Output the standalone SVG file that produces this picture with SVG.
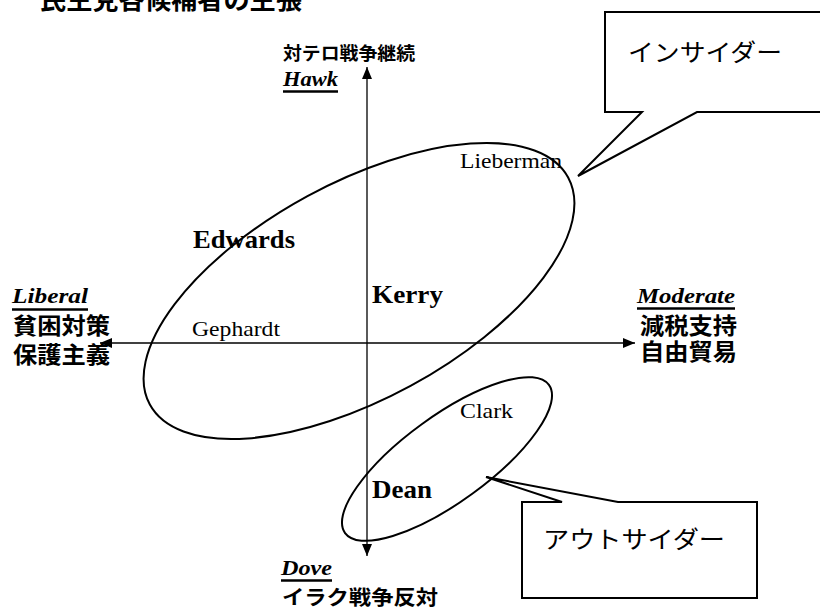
<svg xmlns="http://www.w3.org/2000/svg" width="820" height="610" viewBox="0 0 820 610">
<style>
.jp{font-family:"Noto Sans CJK JP","Noto Sans CJK SC",sans-serif;font-weight:bold;fill:#000}
.kana{font-family:"Noto Sans CJK JP","Noto Sans CJK SC",sans-serif;font-weight:normal;fill:#000}
.en{font-family:"Liberation Serif","Times New Roman",serif;fill:#000}
.it{font-family:"Liberation Serif","Times New Roman",serif;font-style:italic;font-weight:bold;fill:#000}
.b{font-weight:bold}
.ul{stroke:#000;stroke-width:2.5}
.ax{stroke:#000;stroke-width:1.3;fill:none}
.ell{stroke:#000;stroke-width:2;fill:none}
.call{stroke:#000;stroke-width:2;fill:#fff}
</style>
<defs>
<marker id="ah" viewBox="0 0 12 10" refX="12" refY="5" markerWidth="12" markerHeight="10" markerUnits="userSpaceOnUse" orient="auto">
<path d="M0,0 L12,5 L0,10 Z" fill="#000"/>
</marker>
</defs>
<rect width="820" height="610" fill="#fff"/>
<g id="title"><text class="jp" x="40" y="9" font-size="26" textLength="262" lengthAdjust="spacingAndGlyphs">民主党各候補者の主張</text></g>
<g id="connectors">
<line class="ax" x1="367" y1="300" x2="367" y2="67" marker-end="url(#ah)"/>
<line class="ax" x1="367" y1="300" x2="367" y2="556" marker-end="url(#ah)"/>
<line class="ax" x1="360" y1="343" x2="635" y2="343" marker-end="url(#ah)"/>
<line class="ax" x1="360" y1="343" x2="100" y2="343" marker-end="url(#ah)"/>
</g>
<g id="hawk">
<text class="jp" x="283" y="60" font-size="18" textLength="132" lengthAdjust="spacingAndGlyphs">対テロ戦争継続</text>
<text class="it" x="283" y="86" font-size="21" textLength="55" lengthAdjust="spacingAndGlyphs">Hawk</text>
<line class="ul" x1="283" y1="91.5" x2="338" y2="91.5"/>
</g>
<g id="liberal">
<text class="it" x="12" y="303" font-size="21" textLength="76" lengthAdjust="spacingAndGlyphs">Liberal</text>
<line class="ul" x1="12" y1="309.5" x2="88" y2="309.5"/>
<text class="jp" x="13" y="334" font-size="23" textLength="97" lengthAdjust="spacingAndGlyphs">貧困対策</text>
<text class="jp" x="13" y="363" font-size="23" textLength="97" lengthAdjust="spacingAndGlyphs">保護主義</text>
</g>
<g id="moderate">
<text class="it" x="637" y="303" font-size="21" textLength="98" lengthAdjust="spacingAndGlyphs">Moderate</text>
<line class="ul" x1="637" y1="308.5" x2="735" y2="308.5"/>
<text class="jp" x="640" y="334" font-size="23" textLength="97" lengthAdjust="spacingAndGlyphs">減税支持</text>
<text class="jp" x="640" y="360" font-size="23" textLength="97" lengthAdjust="spacingAndGlyphs">自由貿易</text>
</g>
<g id="dove">
<text class="it" x="281" y="575" font-size="21" textLength="51" lengthAdjust="spacingAndGlyphs">Dove</text>
<line class="ul" x1="281" y1="580.5" x2="332" y2="580.5"/>
<text class="jp" x="282" y="605" font-size="20" textLength="156" lengthAdjust="spacingAndGlyphs">イラク戦争反対</text>
</g>
<g id="insider-ellipse"><ellipse class="ell" cx="359" cy="291" rx="238" ry="108" transform="rotate(-28.5 359 291)"/></g>
<g id="outsider-ellipse"><ellipse class="ell" cx="447" cy="459" rx="126" ry="43" transform="rotate(-36 447 459)"/></g>
<g id="lieberman"><text class="en" x="460" y="168" font-size="21" textLength="102" lengthAdjust="spacingAndGlyphs">Lieberman</text></g>
<g id="edwards"><text class="en b" x="193" y="248" font-size="26" textLength="102" lengthAdjust="spacingAndGlyphs">Edwards</text></g>
<g id="kerry"><text class="en b" x="372" y="303" font-size="25" textLength="71" lengthAdjust="spacingAndGlyphs">Kerry</text></g>
<g id="gephardt"><text class="en" x="192" y="336" font-size="21" textLength="88" lengthAdjust="spacingAndGlyphs">Gephardt</text></g>
<g id="clark"><text class="en" x="460" y="418" font-size="21" textLength="53" lengthAdjust="spacingAndGlyphs">Clark</text></g>
<g id="dean"><text class="en b" x="372" y="498" font-size="25" textLength="60" lengthAdjust="spacingAndGlyphs">Dean</text></g>
<g id="insider-callout">
<path class="call" d="M830,112 L697,112 L578,176 L642,112 L605,112 L605,12 L830,12"/>
<text class="kana" x="628" y="61" font-size="24" textLength="154" lengthAdjust="spacingAndGlyphs">インサイダー</text>
</g>
<g id="outsider-callout">
<path class="call" d="M562,502 L486,477 L618,502 L757,502 L757,598 L522,598 L522,502 Z"/>
<text class="kana" x="543" y="548" font-size="24" textLength="182" lengthAdjust="spacingAndGlyphs">アウトサイダー</text>
</g>
</svg>
